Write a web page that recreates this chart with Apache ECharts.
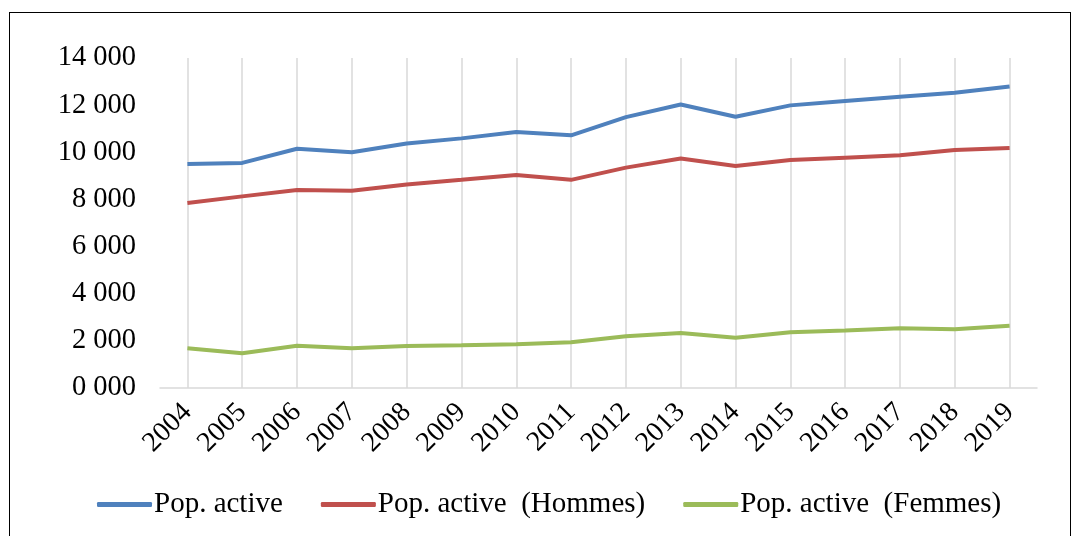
<!DOCTYPE html>
<html>
<head>
<meta charset="utf-8">
<script src="https://cdn.jsdelivr.net/npm/echarts@6/dist/echarts.min.js"></script>
<style>
  html, body {margin: 0; padding: 0; background: #fff;}
  .frame {position: absolute; left: 9px; top: 12px; width: 1062px; height: 540px; border: 1px solid #000; box-sizing: border-box;}
  #chart {position: absolute; left: 0; top: 0; width: 1075px; height: 536px;}
</style>
</head>
<body>
<div class="frame"></div>
<div id="chart"></div>
<script>
const years = ['2004', '2005', '2006', '2007', '2008', '2009', '2010', '2011',
  '2012', '2013', '2014', '2015', '2016', '2017', '2018', '2019'];
const popActive = [9500, 9550, 10150, 10000, 10370, 10590, 10860, 10720,
  11490, 12030, 11510, 11990, 12180, 12360, 12530, 12790];
const popHommes = [7850, 8130, 8400, 8370, 8630, 8830, 9040, 8830,
  9350, 9740, 9420, 9670, 9770, 9870, 10100, 10180];
const popFemmes = [1690, 1470, 1790, 1690, 1780, 1810, 1860, 1940,
  2200, 2330, 2130, 2370, 2440, 2530, 2490, 2640];
const seriesNames = ['Pop. active', 'Pop. active  (Hommes)', 'Pop. active  (Femmes)'];
const colors = ['#4F81BD', '#C0504D', '#9BBB59'];

// "14 000", "0 000" style labels
function fmt(v) {
  const th = Math.floor(v / 1000);
  const rest = String(v % 1000).padStart(3, '0');
  return th + ' ' + rest;
}

const font = 'Liberation Serif';
const chart = echarts.init(document.getElementById('chart'));
chart.setOption({
  animation: false,
  color: colors,
  grid: {left: 160, right: 38, top: 58, bottom: 148},
  legend: {
    left: 92, top: 485,
    itemWidth: 55, itemHeight: 5, itemGap: 38,
    icon: 'roundRect',
    textStyle: {fontFamily: font, fontSize: 29, color: '#000', padding: [0, 0, 0, -3]},
    data: seriesNames
  },
  xAxis: {
    type: 'category',
    data: years,
    boundaryGap: true,
    axisLine: {lineStyle: {color: '#d9d9d9', width: 1.5}},
    axisTick: {show: false},
    axisLabel: {rotate: 45, fontFamily: font, fontSize: 28, color: '#000', margin: 20, interval: 0},
    splitLine: {show: true, alignWithLabel: true, lineStyle: {color: '#d9d9d9', width: 1.5}}
  },
  yAxis: {
    type: 'value',
    min: 0, max: 14000, interval: 2000,
    axisLine: {show: false},
    axisTick: {show: false},
    splitLine: {show: false},
    axisLabel: {formatter: fmt, fontFamily: font, fontSize: 28.5, color: '#000', margin: 24}
  },
  series: [
    {name: seriesNames[0], type: 'line', data: popActive, symbol: 'none', lineStyle: {width: 4}},
    {name: seriesNames[1], type: 'line', data: popHommes, symbol: 'none', lineStyle: {width: 4}},
    {name: seriesNames[2], type: 'line', data: popFemmes, symbol: 'none', lineStyle: {width: 4}}
  ]
});
</script>
</body>
</html>
